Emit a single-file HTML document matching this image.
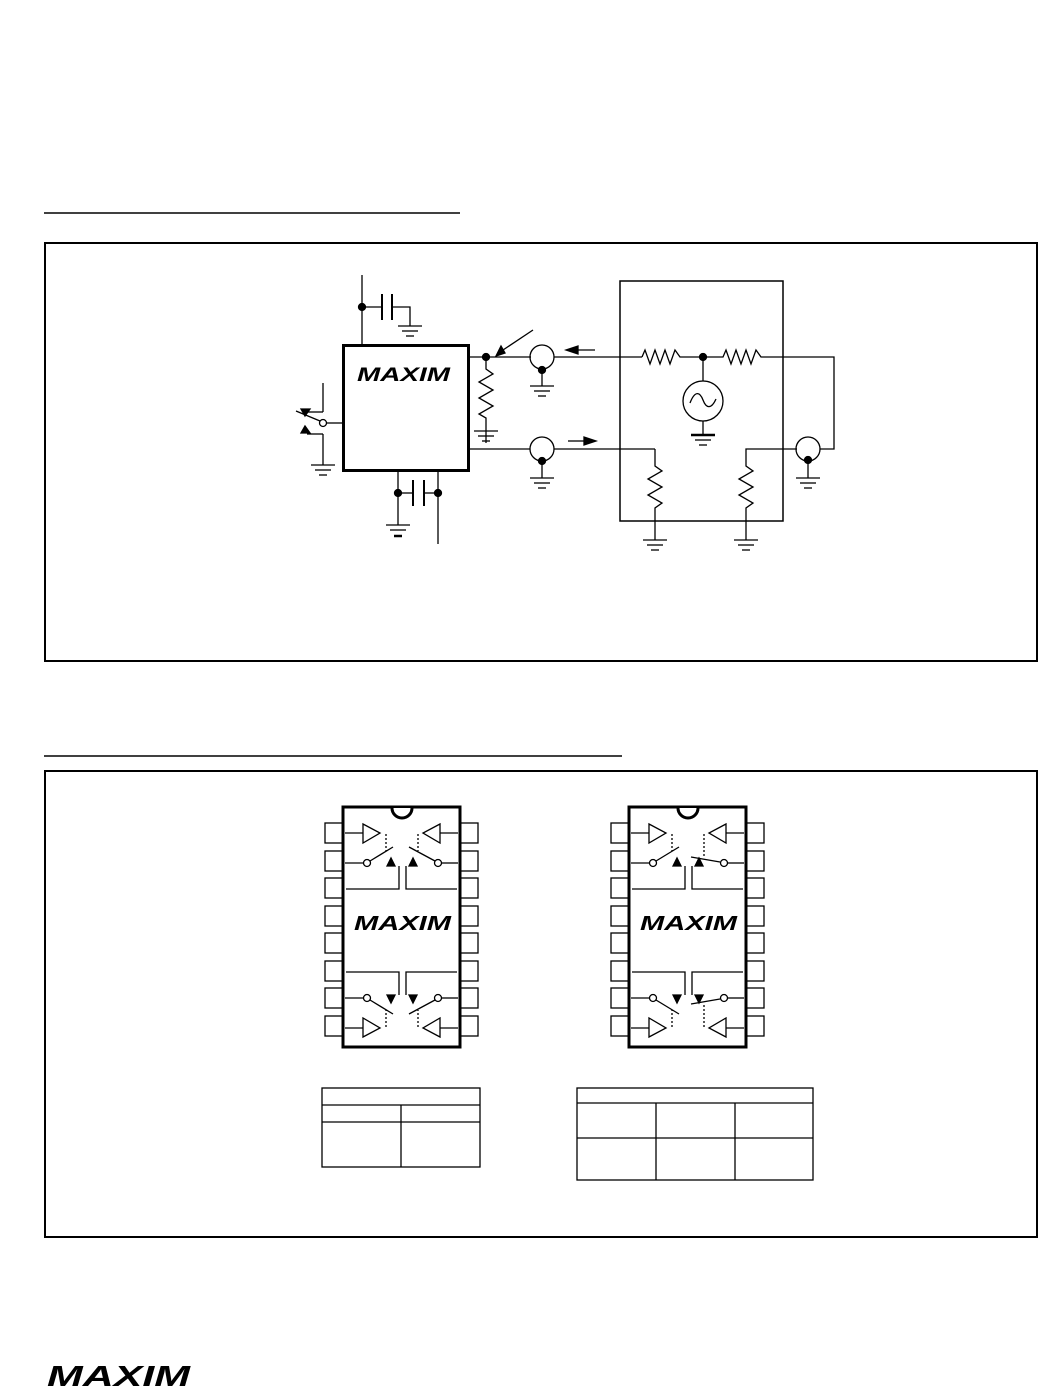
<!DOCTYPE html>
<html><head><meta charset="utf-8"><style>
html,body{margin:0;padding:0;background:#fff;}
svg{display:block}
.logo{font-family:"Liberation Sans",sans-serif;font-weight:bold;font-style:italic;fill:#000}
</style></head><body>
<svg width="1038" height="1390" viewBox="0 0 1038 1390" xmlns="http://www.w3.org/2000/svg" fill="none" stroke="#000" stroke-width="1.3">
<defs>
<g id="gnd"><line x1="-12" y1="0" x2="12" y2="0"/><line x1="-8" y1="5" x2="8" y2="5"/><line x1="-4" y1="10" x2="4" y2="10"/></g>
<g id="half">
 <line x1="345" y1="833" x2="363" y2="833"/>
 <polygon points="363,824 380,833 363,843"/>
 <line x1="458" y1="833" x2="440" y2="833"/>
 <polygon points="440,824 423,833 440,843"/>
 <line x1="386" y1="834" x2="386" y2="851" stroke-dasharray="2,2"/>
 <line x1="418" y1="834" x2="418" y2="851" stroke-dasharray="2,2"/>
 <line x1="345" y1="863" x2="364" y2="863"/>
 <circle cx="367" cy="863" r="3.5" fill="#fff"/>
 <line x1="370" y1="861" x2="393" y2="847"/>
 <line x1="458" y1="863" x2="442" y2="863"/>
 <circle cx="438" cy="863" r="3.5" fill="#fff"/>
 <line x1="435" y1="861" x2="409" y2="847"/>
 <polygon points="387,866 391,858 395,866" fill="#000"/>
 <polygon points="409,866 413,858 417,866" fill="#000"/>
 <polyline points="399,866 399,889 346,889"/>
 <polyline points="406,866 406,889 457,889"/>
</g>
<g id="pins">
 <rect x="325" y="823" width="18" height="20"/><rect x="325" y="851" width="18" height="20"/><rect x="325" y="878" width="18" height="20"/><rect x="325" y="906" width="18" height="20"/><rect x="325" y="933" width="18" height="20"/><rect x="325" y="961" width="18" height="20"/><rect x="325" y="988" width="18" height="20"/><rect x="325" y="1016" width="18" height="20"/>
 <rect x="460" y="823" width="18" height="20"/><rect x="460" y="851" width="18" height="20"/><rect x="460" y="878" width="18" height="20"/><rect x="460" y="906" width="18" height="20"/><rect x="460" y="933" width="18" height="20"/><rect x="460" y="961" width="18" height="20"/><rect x="460" y="988" width="18" height="20"/><rect x="460" y="1016" width="18" height="20"/>
 <rect x="343" y="807" width="117" height="240" stroke-width="3" fill="#fff"/>
 <path d="M392,808 A10,10 0 0 0 412,808" stroke-width="3" fill="#fff"/>
</g>
</defs>

<line x1="44" y1="213" x2="460" y2="213" stroke-width="1.5"/>
<rect x="45" y="243" width="992" height="418" stroke-width="2"/>
<line x1="44" y1="756" x2="622" y2="756" stroke-width="1.5"/>
<rect x="45" y="771" width="992" height="466" stroke-width="2"/>

<rect x="343.5" y="345.5" width="125" height="125" stroke-width="3"/>
<text x="357" y="381" class="logo" font-size="19" stroke="none" textLength="93" lengthAdjust="spacingAndGlyphs">MAXIM</text>
<line x1="362" y1="275" x2="362" y2="345"/>
<circle cx="362" cy="307" r="3.5" fill="#000"/>
<line x1="362" y1="307" x2="382" y2="307"/>
<line x1="382" y1="294" x2="382" y2="320" stroke-width="2"/>
<line x1="392" y1="294" x2="392" y2="320" stroke-width="2"/>
<polyline points="392,307 410,307 410,326"/>
<use href="#gnd" x="410" y="326"/>

<line x1="469" y1="357" x2="531" y2="357"/>
<circle cx="486" cy="357" r="3.5" fill="#000"/>
<line x1="533" y1="330" x2="500" y2="352"/>
<polygon points="496,356 501,346 505,353" fill="#000"/>
<polyline points="486,357 486,369 493,374 479,382 493,390 479,398 493,406 479,414 486,418 486,443"/>
<use href="#gnd" x="486" y="443" transform="translate(0,-12)"/>
<circle cx="542" cy="357" r="12"/>
<circle cx="542" cy="370" r="3.5" fill="#000"/>
<line x1="542" y1="370" x2="542" y2="386"/>
<use href="#gnd" x="542" y="386"/>
<line x1="554" y1="357" x2="642" y2="357"/>
<line x1="577" y1="350" x2="595" y2="350"/>
<polygon points="566,350 578,346 578,354" fill="#000"/>

<rect x="620" y="281" width="163" height="240" stroke-width="1.5"/>
<polyline points="642,357 645,350 650,364 655,350 660,364 665,350 670,364 675,350 680,357 703,357 723,357 726,350 731,364 736,350 741,364 746,350 751,364 756,350 761,357 834,357 834,449 820,449"/>
<circle cx="703" cy="357" r="3.5" fill="#000"/>
<line x1="703" y1="357" x2="703" y2="381"/>
<circle cx="703" cy="401" r="20"/>
<path d="M690,403 C695,390 700,392 703,400 C706,408 711,410 716,399"/>
<line x1="703" y1="421" x2="703" y2="435"/>
<line x1="691" y1="435" x2="715" y2="435" stroke-width="2.5"/>
<line x1="695" y1="440" x2="711" y2="440"/><line x1="699" y1="445" x2="707" y2="445"/>

<line x1="469" y1="449" x2="530" y2="449"/>
<circle cx="542" cy="449" r="12"/>
<circle cx="542" cy="461" r="3.5" fill="#000"/>
<line x1="542" y1="461" x2="542" y2="478"/>
<use href="#gnd" x="542" y="478"/>
<line x1="554" y1="449" x2="655" y2="449"/>
<line x1="568" y1="441" x2="584" y2="441"/>
<polygon points="596,441 584,437 584,445" fill="#000"/>
<polyline points="655,449 655,466 662,471 648,479 662,487 648,495 662,503 655,508 655,540"/>
<use href="#gnd" x="655" y="540"/>
<polyline points="797,449 746,449 746,466 753,471 739,479 753,487 739,495 753,503 746,508 746,540"/>
<use href="#gnd" x="746" y="540"/>
<circle cx="808" cy="449" r="12"/>
<circle cx="808" cy="460" r="3.5" fill="#000"/>
<line x1="808" y1="460" x2="808" y2="478"/>
<use href="#gnd" x="808" y="478"/>

<line x1="323" y1="383" x2="323" y2="412"/>
<line x1="323" y1="412" x2="307" y2="412"/>
<line x1="296" y1="411" x2="320" y2="421"/>
<polygon points="301,409 310,409 305,416" fill="#000"/>
<polygon points="301,433 310,433 305,426" fill="#000"/>
<line x1="307" y1="434" x2="323" y2="434"/>
<circle cx="323" cy="423" r="3.5" fill="#fff"/>
<line x1="327" y1="423" x2="343" y2="423"/>
<line x1="323" y1="434" x2="323" y2="465"/>
<use href="#gnd" x="323" y="465"/>

<line x1="398" y1="471" x2="398" y2="525"/>
<line x1="438" y1="471" x2="438" y2="544"/>
<circle cx="398" cy="493" r="3.5" fill="#000"/>
<circle cx="438" cy="493" r="3.5" fill="#000"/>
<line x1="398" y1="493" x2="413" y2="493"/><line x1="424" y1="493" x2="438" y2="493"/>
<line x1="413" y1="480" x2="413" y2="506" stroke-width="2"/>
<line x1="424" y1="480" x2="424" y2="506" stroke-width="2"/>
<line x1="386" y1="525" x2="410" y2="525"/><line x1="390" y1="530" x2="406" y2="530"/><line x1="394" y1="536" x2="402" y2="536" stroke-width="2.5"/>

<use href="#pins"/>
<use href="#half"/>
<use href="#half" transform="translate(0,1861) scale(1,-1)"/>
<text x="354" y="930" class="logo" font-size="20" stroke="none" textLength="97" lengthAdjust="spacingAndGlyphs">MAXIM</text>

<g transform="translate(286,0)">
<use href="#pins"/>
<g>
 <line x1="345" y1="833" x2="363" y2="833"/><polygon points="363,824 380,833 363,843"/>
 <line x1="458" y1="833" x2="440" y2="833"/><polygon points="440,824 423,833 440,843"/>
 <line x1="386" y1="834" x2="386" y2="851" stroke-dasharray="2,2"/>
 <line x1="418" y1="834" x2="418" y2="856" stroke-dasharray="2,2"/>
 <line x1="345" y1="863" x2="364" y2="863"/><circle cx="367" cy="863" r="3.5" fill="#fff"/>
 <line x1="370" y1="861" x2="393" y2="847"/>
 <line x1="458" y1="863" x2="442" y2="863"/><circle cx="438" cy="863" r="3.5" fill="#fff"/>
 <line x1="434" y1="862" x2="405" y2="857"/>
 <polygon points="387,866 391,858 395,866" fill="#000"/><polygon points="409,866 413,858 417,866" fill="#000"/>
 <polyline points="399,866 399,889 346,889"/><polyline points="406,866 406,889 457,889"/>
</g>
<g transform="translate(0,1861) scale(1,-1)">
 <line x1="345" y1="833" x2="363" y2="833"/><polygon points="363,824 380,833 363,843"/>
 <line x1="458" y1="833" x2="440" y2="833"/><polygon points="440,824 423,833 440,843"/>
 <line x1="386" y1="834" x2="386" y2="851" stroke-dasharray="2,2"/>
 <line x1="418" y1="834" x2="418" y2="856" stroke-dasharray="2,2"/>
 <line x1="345" y1="863" x2="364" y2="863"/><circle cx="367" cy="863" r="3.5" fill="#fff"/>
 <line x1="370" y1="861" x2="393" y2="847"/>
 <line x1="458" y1="863" x2="442" y2="863"/><circle cx="438" cy="863" r="3.5" fill="#fff"/>
 <line x1="434" y1="862" x2="405" y2="857"/>
 <polygon points="387,866 391,858 395,866" fill="#000"/><polygon points="409,866 413,858 417,866" fill="#000"/>
 <polyline points="399,866 399,889 346,889"/><polyline points="406,866 406,889 457,889"/>
</g>
<text x="354" y="930" class="logo" font-size="20" stroke="none" textLength="97" lengthAdjust="spacingAndGlyphs">MAXIM</text>
</g>

<rect x="322" y="1088" width="158" height="79"/>
<line x1="322" y1="1105" x2="480" y2="1105"/>
<line x1="322" y1="1122" x2="480" y2="1122"/>
<line x1="401" y1="1105" x2="401" y2="1167"/>
<rect x="577" y="1088" width="236" height="92"/>
<line x1="577" y1="1103" x2="813" y2="1103"/>
<line x1="577" y1="1138" x2="813" y2="1138"/>
<line x1="656" y1="1103" x2="656" y2="1180"/>
<line x1="735" y1="1103" x2="735" y2="1180"/>

<text x="47" y="1386" class="logo" font-size="29" stroke="none" textLength="143" lengthAdjust="spacingAndGlyphs">MAXIM</text>
</svg>
</body></html>
